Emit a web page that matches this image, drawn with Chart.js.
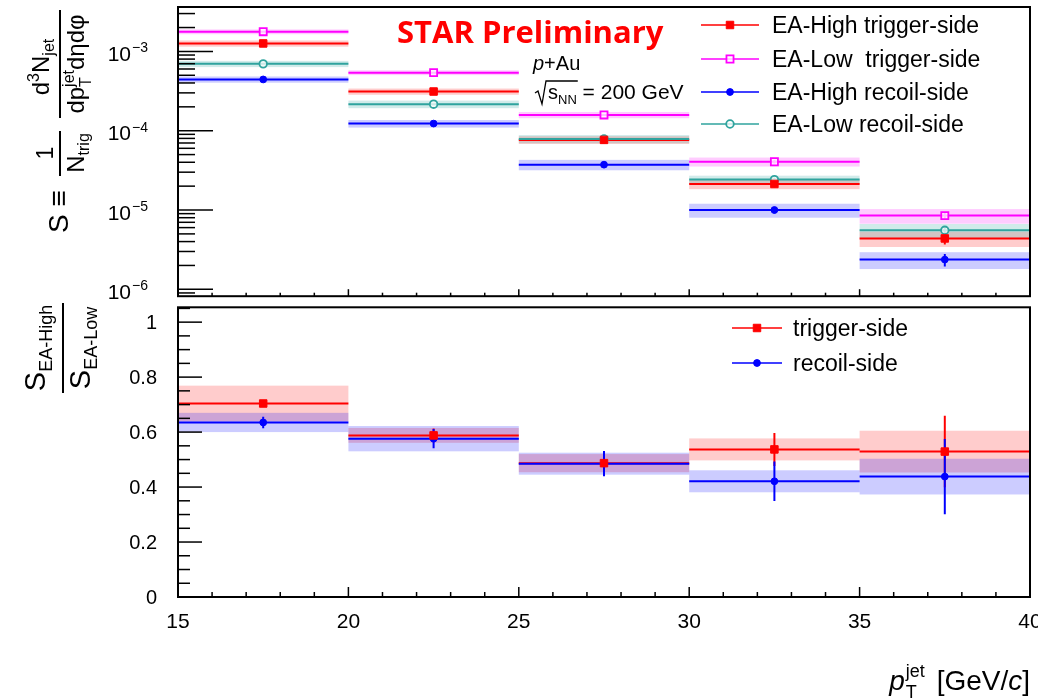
<!DOCTYPE html>
<html>
<head>
<meta charset="utf-8">
<script src="https://cdn.jsdelivr.net/npm/chart.js@4.4.1/dist/chart.umd.min.js"></script>
<style>
  html, body { margin: 0; padding: 0; background: #fff; }
  #wrap { position: relative; width: 1038px; height: 698px; overflow: hidden; background: #fff; }
  #spectrum-canvas { position: absolute; left: 0; top: 0; }
  #ratio-canvas { position: absolute; left: 0; top: 301px; }
</style>
</head>
<body>
<div id="wrap">
  <canvas id="spectrum-canvas" width="1038" height="303"></canvas>
  <canvas id="ratio-canvas" width="1038" height="397"></canvas>
</div>
<script>
// jet pT bins [GeV/c]
const ptEdges = [15, 20, 25, 30, 35, 40];
const ptCenters = [17.5, 22.5, 27.5, 32.5, 37.5];

// S spectra
const highTrigS = [1.26e-3, 3.12e-4, 7.66e-5, 2.13e-5, 4.38e-6];
const lowTrigS = [1.77e-3, 5.40e-4, 1.58e-4, 4.06e-5, 8.50e-6];
const highRecoilS = [4.43e-4, 1.23e-4, 3.73e-5, 1.00e-5, 2.37e-6];
const lowRecoilS = [6.97e-4, 2.16e-4, 7.87e-5, 2.42e-5, 5.55e-6];

// relative uncertainties on S (sys -> boxes, stat -> bars)
const highTrigSys = [0.09, 0.09, 0.11, 0.14, 0.22];
const lowTrigSys = [0.07, 0.07, 0.09, 0.13, 0.21];
const highRecoilSys = [0.09, 0.11, 0.15, 0.20, 0.24];
const lowRecoilSys = [0.09, 0.11, 0.12, 0.12, 0.20];
const highTrigStat = [0.01, 0.02, 0.04, 0.09, 0.16];
const lowTrigStat = [0.01, 0.02, 0.03, 0.05, 0.08];
const highRecoilStat = [0.01, 0.02, 0.04, 0.09, 0.18];
const lowRecoilStat = [0.01, 0.02, 0.03, 0.06, 0.12];

// EA-High / EA-Low ratio, absolute uncertainties
const ratioTrig = [0.704, 0.588, 0.487, 0.537, 0.529];
const ratioTrigSys = [0.065, 0.027, 0.033, 0.040, 0.076];
const ratioTrigStat = [0.010, 0.025, 0.035, 0.060, 0.130];
const ratioRecoil = [0.635, 0.576, 0.485, 0.421, 0.438];
const ratioRecoilSys = [0.035, 0.046, 0.040, 0.040, 0.065];
const ratioRecoilStat = [0.021, 0.035, 0.046, 0.072, 0.137];

// axis ticks
const ptTicks = [15, 20, 25, 30, 35, 40];
const spectrumTicks = [1e-6, 1e-5, 1e-4, 1e-3];
const ratioTicks = [0, 0.2, 0.4, 0.6, 0.8, 1];

const RED = '#ff0000', MAGENTA = '#ff00ff', BLUE = '#0000ff', TEAL = '#2fa39e';
const SANS = '"Liberation Sans", Arial, Helvetica, sans-serif';
const f = (size, style) => `${style || ''} ${size}px ${SANS}`;

function runsWidth(ctx, runs) {
  let w = 0;
  runs.forEach(r => {
    ctx.font = r.font;
    if (!r.stack) w += ctx.measureText(r.t).width + (r.gap || 0);
  });
  return w;
}

// draws a row of text pieces (sub/superscripts via dy)
function drawRuns(ctx, runs, x, y, align) {
  const total = runsWidth(ctx, runs);
  let cx = align === 'center' ? x - total / 2 : align === 'right' ? x - total : x;
  ctx.textAlign = 'left';
  ctx.textBaseline = 'alphabetic';
  runs.forEach(r => {
    ctx.font = r.font;
    ctx.fillText(r.t, cx, y + (r.dy || 0));
    if (!r.stack) cx += ctx.measureText(r.t).width + (r.gap || 0);
  });
}

function seg(ctx, x0, y0, x1, y1) {
  ctx.beginPath();
  ctx.moveTo(x0, y0);
  ctx.lineTo(x1, y1);
  ctx.stroke();
}

function histSet(label, values, sys, stat, relative, color, band, marker) {
  return {
    label: label,
    data: ptCenters.map((x, i) => ({ x: x, y: values[i] })),
    sysErr: sys,
    statErr: stat,
    relErr: relative,
    lineColor: color,
    bandColor: band,
    pointStyle: marker.style,
    pointRadius: marker.r,
    pointHoverRadius: marker.r,
    pointBackgroundColor: marker.fill,
    pointBorderColor: color,
    pointBorderWidth: marker.bw
  };
}

function errRange(ds, i, errs) {
  const v = ds.data[i].y, e = errs[i];
  return ds.relErr ? [v * (1 - e), v * (1 + e)] : [v - e, v + e];
}

// ROOT-like histogram drawing: sys boxes, bin-width lines, stat bars
const histBins = {
  id: 'histBins',
  beforeDatasetsDraw(chart) {
    const { ctx, chartArea: a, scales: { x, y } } = chart;
    const sets = chart.data.datasets;
    ctx.save();
    ctx.beginPath();
    ctx.rect(a.left, a.top, a.right - a.left, a.bottom - a.top);
    ctx.clip();
    sets.forEach(ds => {
      ctx.fillStyle = ds.bandColor;
      ds.data.forEach((p, i) => {
        const [lo, hi] = errRange(ds, i, ds.sysErr);
        const x0 = x.getPixelForValue(ptEdges[i]);
        const x1 = x.getPixelForValue(ptEdges[i + 1]);
        const y0 = y.getPixelForValue(hi);
        const y1 = y.getPixelForValue(lo);
        ctx.fillRect(x0, y0, x1 - x0, y1 - y0);
      });
    });
    sets.forEach(ds => {
      ctx.strokeStyle = ds.lineColor;
      ctx.lineWidth = 2;
      ctx.beginPath();
      ds.data.forEach((p, i) => {
        const py = y.getPixelForValue(p.y);
        ctx.moveTo(x.getPixelForValue(ptEdges[i]), py);
        ctx.lineTo(x.getPixelForValue(ptEdges[i + 1]), py);
        const [lo, hi] = errRange(ds, i, ds.statErr);
        const px = x.getPixelForValue(p.x);
        ctx.moveTo(px, y.getPixelForValue(hi));
        ctx.lineTo(px, y.getPixelForValue(lo));
      });
      ctx.stroke();
    });
    ctx.restore();
  }
};

function drawMarker(ctx, ds, px, py) {
  ctx.fillStyle = ds.pointBackgroundColor;
  ctx.strokeStyle = ds.pointBorderColor;
  ctx.lineWidth = ds.pointBorderWidth;
  Chart.helpers.drawPoint(ctx, {
    pointStyle: ds.pointStyle, radius: ds.pointRadius,
    borderWidth: ds.pointBorderWidth, rotation: 0
  }, px, py);
}

function drawLegend(chart, items, x0, x1, textX, rows, font) {
  const ctx = chart.ctx;
  items.forEach((it, k) => {
    const ds = chart.data.datasets[it.set];
    const ry = rows[k];
    ctx.strokeStyle = ds.lineColor;
    ctx.lineWidth = 1.5;
    seg(ctx, x0, ry, x1, ry);
    drawMarker(ctx, ds, (x0 + x1) / 2, ry);
    ctx.fillStyle = '#000';
    drawRuns(ctx, [{ t: it.text, font: font }], textX, ry + 8, 'left');
  });
}

function drawXTicks(ctx, a, x, major, minor) {
  for (let v = ptTicks[0]; v <= ptTicks[ptTicks.length - 1]; v++) {
    const px = x.getPixelForValue(v);
    const len = ptTicks.includes(v) ? major : minor;
    seg(ctx, px, a.bottom, px, a.bottom - len);
  }
}

const spectrumFrame = {
  id: 'spectrumFrame',
  afterDraw(chart) {
    const { ctx, chartArea: a, scales: { x, y } } = chart;
    ctx.save();
    ctx.strokeStyle = '#000';
    ctx.lineWidth = 1.5;
    drawXTicks(ctx, a, x, 7, 3.5);
    // log ticks, decades long
    for (let e = -7; e <= -2; e++) {
      for (let k = 1; k <= 9; k++) {
        const v = k * Math.pow(10, e);
        if (v < y.min || v > y.max) continue;
        const py = y.getPixelForValue(v);
        seg(ctx, a.left, py, a.left + (k === 1 ? 35 : 17), py);
      }
    }
    ctx.lineWidth = 2;
    ctx.strokeRect(a.left, a.top, a.right - a.left, a.bottom - a.top);

    ctx.fillStyle = '#000';
    spectrumTicks.forEach(v => {
      const py = y.getPixelForValue(v);
      const ex = '\u2212' + Math.round(-Math.log10(v));
      ctx.font = f(14);
      const ew = ctx.measureText(ex).width;
      drawRuns(ctx, [{ t: ex, font: f(14) }], 148, py + 1, 'right');
      drawRuns(ctx, [{ t: '10', font: f(21) }], 148 - ew - 1, py + 9.5, 'right');
    });

    drawLegend(chart, [
      { text: 'EA-High trigger-side', set: 0 },
      { text: 'EA-Low  trigger-side', set: 1 },
      { text: 'EA-High recoil-side', set: 2 },
      { text: 'EA-Low recoil-side', set: 3 }
    ], 701, 759, 772, [25, 59, 92, 124], f(23));

    // labels
    ctx.fillStyle = '#ff0000';
    drawRuns(ctx, [{ t: 'STAR Preliminary', font: 'bold 31px "Open Sans", Lato, sans-serif' }], 397, 43, 'left');
    ctx.fillStyle = '#000';
    drawRuns(ctx, [{ t: 'p', font: f(20, 'italic') }, { t: '+Au', font: f(20) }], 533, 70, 'left');
    ctx.strokeStyle = '#000';
    ctx.lineWidth = 1.3;
    ctx.font = f(20);
    const sW = ctx.measureText('s').width;
    ctx.font = f(13);
    const nnEnd = 548 + sW + ctx.measureText('NN').width;
    ctx.beginPath();
    ctx.moveTo(535, 93); ctx.lineTo(538, 91); ctx.lineTo(542, 104); ctx.lineTo(546, 81); ctx.lineTo(nnEnd + 1, 81);
    ctx.stroke();
    drawRuns(ctx, [
      { t: 's', font: f(20) }, { t: 'NN', font: f(13), dy: 5 }, { t: ' = 200 GeV', font: f(21) }
    ], 548, 99, 'left');

    // vertical axis title
    ctx.save();
    ctx.rotate(-Math.PI / 2);
    ctx.strokeStyle = '#000';
    ctx.fillStyle = '#000';
    ctx.lineWidth = 2;
    drawRuns(ctx, [{ t: 'S \u2261', font: f(28) }], -233, 68, 'left');
    seg(ctx, -176, 60, -131, 60);
    drawRuns(ctx, [{ t: '1', font: f(23) }], -153, 53, 'center');
    drawRuns(ctx, [{ t: 'N', font: f(24) }, { t: 'trig', font: f(16), dy: 5 }], -153, 84, 'center');
    seg(ctx, -118, 60, -10, 60);
    drawRuns(ctx, [
      { t: 'd', font: f(24) }, { t: '3', font: f(16), dy: -10 },
      { t: 'N', font: f(24) }, { t: 'jet', font: f(16), dy: 5 }
    ], -67, 49, 'center');
    drawRuns(ctx, [
      { t: 'dp', font: f(24) }, { t: 'T', font: f(16), dy: 7, stack: true },
      { t: 'jet', font: f(16), dy: -10 }, { t: 'd\u03b7d\u03c6', font: f(24) }
    ], -64, 84, 'center');
    ctx.restore();
    ctx.restore();
  }
};

const ratioFrame = {
  id: 'ratioFrame',
  beforeDraw(chart) {
    const ctx = chart.ctx;
    ctx.save();
    ctx.fillStyle = '#fff';
    ctx.fillRect(0, 0, chart.width, chart.height);
    ctx.restore();
  },
  afterDraw(chart) {
    const { ctx, chartArea: a, scales: { x, y } } = chart;
    ctx.save();
    ctx.strokeStyle = '#000';
    ctx.lineWidth = 1.5;
    drawXTicks(ctx, a, x, 10, 5);
    for (let v = 0; v <= y.max + 1e-9; v += 0.05) {
      const py = y.getPixelForValue(v);
      const isMajor = ratioTicks.some(t => Math.abs(t - v) < 1e-6);
      seg(ctx, a.left, py, a.left + (isMajor ? 24 : 12), py);
    }
    ctx.lineWidth = 2;
    ctx.strokeRect(a.left, a.top, a.right - a.left, a.bottom - a.top);

    ctx.fillStyle = '#000';
    ratioTicks.forEach(v => {
      drawRuns(ctx, [{ t: String(v), font: f(20) }], 157, y.getPixelForValue(v) + 7, 'right');
    });
    ptTicks.forEach(v => {
      drawRuns(ctx, [{ t: String(v), font: f(21) }], x.getPixelForValue(v), 327, 'center');
    });

    drawLegend(chart, [
      { text: 'trigger-side', set: 0 },
      { text: 'recoil-side', set: 1 }
    ], 732, 782, 793, [27, 62], f(23));

    // pT axis title
    ctx.fillStyle = '#000';
    drawRuns(ctx, [
      { t: 'p', font: f(28, 'italic'), gap: 1 }, { t: 'T', font: f(18), dy: 8, stack: true },
      { t: 'jet', font: f(18), dy: -13, gap: 4 }, { t: ' [GeV/', font: f(28) },
      { t: 'c', font: f(28, 'italic') }, { t: ']', font: f(28) }
    ], 1030, 389, 'right');

    // ratio axis title
    ctx.save();
    ctx.rotate(-Math.PI / 2);
    ctx.strokeStyle = '#000';
    ctx.fillStyle = '#000';
    ctx.lineWidth = 2;
    seg(ctx, -92, 63, -2, 63);
    drawRuns(ctx, [{ t: 'S', font: f(29) }, { t: 'EA-High', font: f(18), dy: 7 }], -47, 45, 'center');
    drawRuns(ctx, [{ t: 'S', font: f(29) }, { t: 'EA-Low', font: f(18), dy: 7 }], -47, 90, 'center');
    ctx.restore();
    ctx.restore();
  }
};

const filledSquare = { style: 'rect', r: 5.3, bw: 1, fill: null };
const openSquare = { style: 'rect', r: 5, bw: 1.8, fill: 'rgba(255,255,255,0.75)' };
const filledCircle = { style: 'circle', r: 3.4, bw: 1, fill: null };
const openCircle = { style: 'circle', r: 3.8, bw: 1.8, fill: 'rgba(255,255,255,0.75)' };
const withFill = (m, c) => Object.assign({}, m, { fill: m.fill || c });

document.addEventListener('DOMContentLoaded', () => {
  const ctxTop = document.getElementById('spectrum-canvas').getContext('2d');
  new Chart(ctxTop, {
    type: 'scatter',
    data: {
      datasets: [
        histSet('EA-High trigger-side', highTrigS, highTrigSys, highTrigStat, true, RED, 'rgba(255,0,0,0.2)', withFill(filledSquare, RED)),
        histSet('EA-Low  trigger-side', lowTrigS, lowTrigSys, lowTrigStat, true, MAGENTA, 'rgba(255,0,255,0.2)', openSquare),
        histSet('EA-High recoil-side', highRecoilS, highRecoilSys, highRecoilStat, true, BLUE, 'rgba(0,0,255,0.2)', withFill(filledCircle, BLUE)),
        histSet('EA-Low recoil-side', lowRecoilS, lowRecoilSys, lowRecoilStat, true, TEAL, 'rgba(47,163,158,0.22)', openCircle)
      ]
    },
    options: {
      responsive: false,
      animation: false,
      events: [],
      layout: { padding: { left: 178, right: 8, top: 7, bottom: 1 } },
      scales: {
        x: { type: 'linear', min: 15, max: 40, display: false },
        y: { type: 'logarithmic', min: 8.19e-7, max: 3.63e-3, display: false }
      },
      plugins: { legend: { display: false }, tooltip: { enabled: false } }
    },
    plugins: [histBins, spectrumFrame]
  });

  const ctxBottom = document.getElementById('ratio-canvas').getContext('2d');
  new Chart(ctxBottom, {
    type: 'scatter',
    data: {
      datasets: [
        histSet('trigger-side', ratioTrig, ratioTrigSys, ratioTrigStat, false, RED, 'rgba(255,0,0,0.2)', withFill(filledSquare, RED)),
        histSet('recoil-side', ratioRecoil, ratioRecoilSys, ratioRecoilStat, false, BLUE, 'rgba(0,0,255,0.2)', withFill(filledCircle, BLUE))
      ]
    },
    options: {
      responsive: false,
      animation: false,
      events: [],
      layout: { padding: { left: 178, right: 8, top: 1, bottom: 101 } },
      scales: {
        x: { type: 'linear', min: 15, max: 40, display: false },
        y: { type: 'linear', min: 0, max: 1.054, display: false }
      },
      plugins: { legend: { display: false }, tooltip: { enabled: false } }
    },
    plugins: [histBins, ratioFrame]
  });
});
</script>
</body>
</html>
